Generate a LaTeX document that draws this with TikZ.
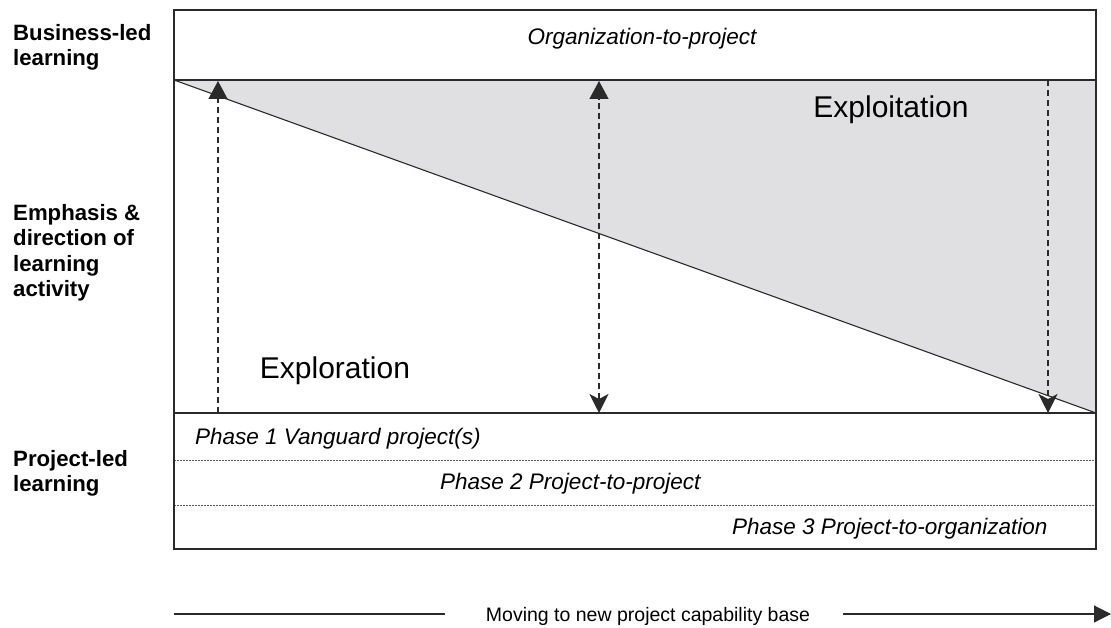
\documentclass[tikz,border=0pt]{standalone}
\usepackage{fontspec}
\setmainfont{Liberation Sans}
\usetikzlibrary{arrows.meta}
\definecolor{fillgray}{HTML}{E0E0E3}
\definecolor{ink}{HTML}{2A2A2A}
\begin{document}
\begin{tikzpicture}[x=1pt,y=-1pt,
  frame/.style={draw=ink, line width=1.4pt},
  thin/.style={draw=ink, line width=1.1pt},
  dashline/.style={draw=ink, line width=1.3pt, dash pattern=on 6pt off 4pt},
  dotline/.style={draw=black!65, line width=0.8pt, dash pattern=on 1.5pt off 1.5pt},
  lab/.style={font=\bfseries\fontsize{22.2}{25.5}\selectfont, align=left, anchor=north west, inner sep=0pt},
  ital/.style={font=\itshape\fontsize{22.5}{26}\selectfont, inner sep=0pt},
  big/.style={font=\fontsize{30}{34}\selectfont, inner sep=0pt},
  upend/.style={-{Triangle[length=18pt,width=19pt]}},
  downend/.style={-{Stealth[length=19pt,width=19pt,inset=5pt]}},
  both/.style={{Stealth[length=19pt,width=19pt,inset=5pt]}-{Triangle[length=18pt,width=19pt]}},
]
\useasboundingbox (0,0) rectangle (1111,628);

% coordinates
\coordinate (tl) at (174,10);
\coordinate (br) at (1096,549);
\coordinate (bandL) at (174,80);
\coordinate (bandR) at (1096,80);
\coordinate (midL) at (174,413);
\coordinate (midR) at (1096,413);
\coordinate (d1L) at (174,460);
\coordinate (d1R) at (1096,460);
\coordinate (d2L) at (174,505);
\coordinate (d2R) at (1096,505);

% shaded exploitation triangle
\fill[fillgray] (bandL) -- (bandR) -- (midR) -- cycle;
\draw[thin] (bandL) -- (midR);

% dotted phase separators
\draw[dotline] (d1L) -- (d1R);
\draw[dotline] (d2L) -- (d2R);

% frame
\draw[frame] (tl) rectangle (br);
\draw[frame] (bandL) -- (bandR);
\draw[frame] (midL) -- (midR);

% vertical arrows
\coordinate (a1b) at (218,413);
\coordinate (a1t) at (218,81);
\coordinate (a2b) at (599,413);
\coordinate (a2t) at (599,81);
\coordinate (a3t) at (1048,80);
\coordinate (a3b) at (1048,413);
\draw[dashline, upend] (a1b) -- (a1t);
\draw[dashline, both] (a2b) -- (a2t);
\draw[dashline, downend] (a3t) -- (a3b);

% texts in the frame
\node[ital] (org) at (642,39) {Organization-to-project};
\node[big] (exploit) at (891,109.5) {Exploitation};
\node[big] (explor) at (335,370.5) {Exploration};
\node[ital, anchor=west] (ph1) at (195,439) {Phase 1 Vanguard project(s)};
\node[ital, anchor=west] (ph2) at (440,484) {Phase 2 Project-to-project};
\node[ital, anchor=west] (ph3) at (732,528.5) {Phase 3 Project-to-organization};

% left labels
\node[lab] (bl1) at (13,24) {Business-led\\learning};
\node[lab] (bl2) at (13,204) {Emphasis \&\\direction of\\learning\\activity};
\node[lab] (bl3) at (13,450) {Project-led\\learning};

% bottom arrow
\coordinate (mvs) at (174,614);
\coordinate (mve) at (1111,614);
\node[font=\fontsize{19.5}{23}\selectfont, inner sep=0pt] (mv) at (648,616) {Moving to new project capability base};
\draw[thin] (mvs) -- ([xshift=-41pt]mv.west |- mvs);
\draw[thin, -{Triangle[length=17pt,width=17pt]}] ([xshift=33pt]mv.east |- mvs) -- (mve);
\end{tikzpicture}
\end{document}
